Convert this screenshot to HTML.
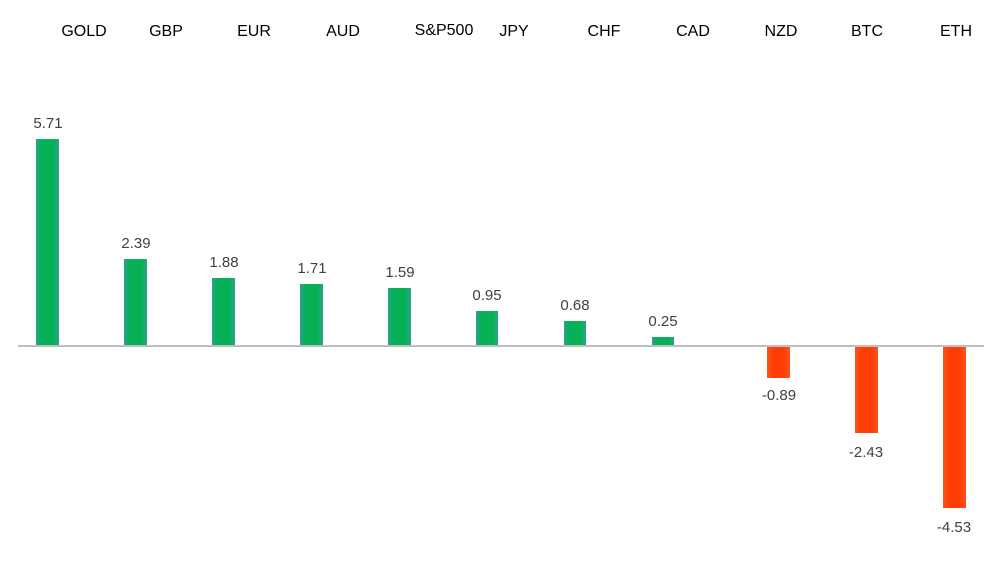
<!DOCTYPE html>
<html><head><meta charset="utf-8"><style>
html,body{margin:0;padding:0;background:#fff;}
svg{display:block;}
text{font-family:"Liberation Sans",sans-serif;}
</style></head><body>
<svg width="1002" height="569" viewBox="0 0 1002 569" xmlns="http://www.w3.org/2000/svg">
<defs>
<linearGradient id="g" x1="0" x2="1" y1="0" y2="0">
<stop offset="0" stop-color="#2aa38c"/><stop offset="0.25" stop-color="#06b156"/><stop offset="0.75" stop-color="#06b156"/><stop offset="1" stop-color="#2aa38c"/>
</linearGradient>
<linearGradient id="r" x1="0" x2="1" y1="0" y2="0">
<stop offset="0" stop-color="#f9541c"/><stop offset="0.3" stop-color="#ff3d05"/><stop offset="0.7" stop-color="#ff3d05"/><stop offset="1" stop-color="#f9541c"/>
</linearGradient>
</defs>
<g font-size="16" fill="#000" text-anchor="middle">
<text x="84" y="36">GOLD</text>
<text x="166" y="36">GBP</text>
<text x="254" y="36">EUR</text>
<text x="343" y="36">AUD</text>
<text x="444" y="35">S&amp;P500</text>
<text x="514" y="36">JPY</text>
<text x="604" y="36">CHF</text>
<text x="693" y="36">CAD</text>
<text x="781" y="36">NZD</text>
<text x="867" y="36">BTC</text>
<text x="956" y="36">ETH</text>
</g>
<g fill="url(#g)">
<rect x="36" y="139" width="23" height="207"/>
<rect x="124" y="259" width="23" height="87"/>
<rect x="212" y="278" width="23" height="68"/>
<rect x="300" y="284" width="23" height="62"/>
<rect x="388" y="288" width="23" height="58"/>
<rect x="476" y="311" width="22" height="35"/>
<rect x="564" y="321" width="22" height="25"/>
<rect x="652" y="337" width="22" height="9"/>
</g>
<g fill="url(#r)">
<rect x="767" y="347" width="23" height="31"/>
<rect x="855" y="347" width="23" height="86"/>
<rect x="943" y="347" width="23" height="161"/>
</g>
<rect x="18" y="345" width="966" height="2" fill="#bfbfbf"/>
<g font-size="15" fill="#404040" text-anchor="middle">
<text x="48" y="128">5.71</text>
<text x="136" y="248">2.39</text>
<text x="224" y="267">1.88</text>
<text x="312" y="273">1.71</text>
<text x="400" y="277">1.59</text>
<text x="487" y="300">0.95</text>
<text x="575" y="310">0.68</text>
<text x="663" y="326">0.25</text>
<text x="779" y="400">-0.89</text>
<text x="866" y="457">-2.43</text>
<text x="954" y="532">-4.53</text>
</g>
</svg>
</body></html>
